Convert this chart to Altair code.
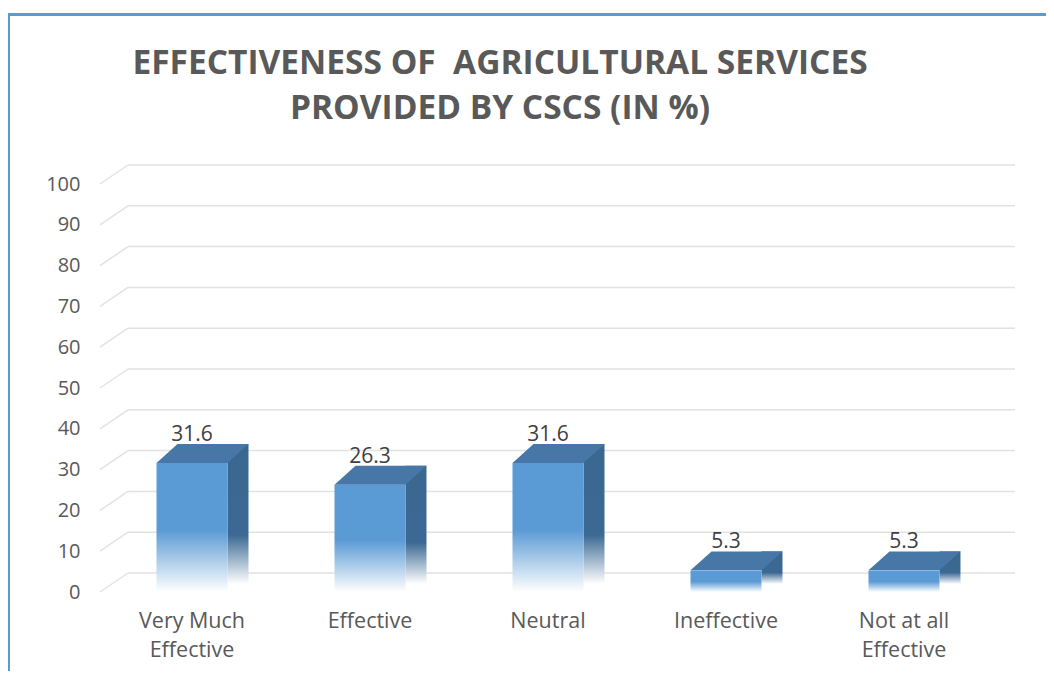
import altair as alt
import pandas as pd

categories = ["Very Much\nEffective", "Effective", "Neutral", "Ineffective", "Not at all\nEffective"]
values = [31.6, 26.3, 31.6, 5.3, 5.3]
tick_values = [0, 10, 20, 30, 40, 50, 60, 70, 80, 90, 100]

title_lines = ["EFFECTIVENESS OF  AGRICULTURAL SERVICES", "PROVIDED BY CSCS (IN %)"]

FONT = "Open Sans"
W, H = 890, 408
DEPTH_X, DEPTH_Y = 21, 19
BAR_W = 71

df = pd.DataFrame({"cat": categories, "value": values})
grid_df = pd.DataFrame({"tick": tick_values})
one = pd.DataFrame({"k": [0]})

yscale = alt.Scale(domain=[0, 100], nice=False, zero=True)
xscale = alt.Scale(paddingInner=0, paddingOuter=0)

yaxis = alt.Axis(values=tick_values, title=None, ticks=False, domain=False, grid=False,
                 labelPadding=23, labelFontSize=20, labelColor="#595959", labelFont=FONT)
xaxis = alt.Axis(title=None, ticks=False, domain=False, grid=False, labelAngle=0,
                 labelExpr="split(datum.label, '\\n')", labelPadding=18,
                 labelFontSize=21.5, labelColor="#595959", labelFont=FONT,
                 labelLineHeight=29, labelBaseline="top")

front_grad = alt.Gradient(
    gradient="linear", x1=0, y1=0, x2=0, y2=1,
    stops=[alt.GradientStop(color="#5B9BD5", offset=0),
           alt.GradientStop(color="#5B9BD5", offset=0.52),
           alt.GradientStop(color="#FFFFFF", offset=1)])
side_grad = alt.Gradient(
    gradient="linear", x1=0, y1=0, x2=0, y2=1,
    stops=[alt.GradientStop(color="#3A6790", offset=0),
           alt.GradientStop(color="#3C6993", offset=0.65),
           alt.GradientStop(color="#FFFFFF", offset=1)])

ytick = alt.Y("tick:Q", scale=yscale, axis=yaxis)
yval = alt.Y("value:Q", scale=yscale, axis=yaxis)
xcat = alt.X("cat:N", sort=categories, scale=xscale, axis=xaxis)

# gridlines (3D wall)
grid_front = alt.Chart(grid_df).mark_rule(color="#E2E2E2", strokeWidth=1.5, y2Offset=-DEPTH_Y).encode(
    x=alt.value(-3), x2=alt.value(25), y=ytick, y2="tick:Q")
grid_back = alt.Chart(grid_df).mark_rule(color="#E2E2E2", strokeWidth=1.5, yOffset=-DEPTH_Y).encode(
    x=alt.value(25), x2=alt.value(912), y=ytick)

side = alt.Chart(df).mark_bar(width=DEPTH_X, xOffset=BAR_W / 2 + DEPTH_X / 2,
                              yOffset=-DEPTH_Y, y2Offset=-8, fill=side_grad).encode(
    x=xcat, y=yval, y2=alt.datum(0))

front = alt.Chart(df).mark_bar(width=BAR_W, fill=front_grad).encode(
    x=xcat, y=yval, y2=alt.datum(0))

half = (BAR_W + DEPTH_X) / 2
hy = DEPTH_Y / 2 / half
fx = (BAR_W - half) / half
top_path = f"M-1,{hy:.4f}L{fx:.4f},{hy:.4f}L1,{-hy:.4f}L{-fx:.4f},{-hy:.4f}Z"
top = alt.Chart(df).mark_point(shape=top_path, size=(2 * half) ** 2, filled=True, opacity=1,
                               fill="#4677A7", strokeWidth=0,
                               xOffset=half - BAR_W / 2, yOffset=-DEPTH_Y / 2).encode(
    x=xcat, y=yval)

labels = alt.Chart(df).mark_text(dy=-28, baseline="middle", fontSize=21, color="#404040", font=FONT).encode(
    x=xcat, y=yval, text=alt.Text("value:Q", format=".1f"))

# keep the double space visible in SVG
shown_title = [t.replace("  ", "\u00a0 ") for t in title_lines]
title = alt.Chart(one).mark_text(align="center", baseline="alphabetic", lineHeight=45, fontSize=33.5,
                                 fontWeight="bold", font=FONT, color="#595959").encode(
    x=alt.value(397), y=alt.value(-110), text=alt.value(shown_title))

border_top = alt.Chart(one).mark_rule(color="#5B9BD5", strokeWidth=3).encode(
    x=alt.value(-95), x2=alt.value(943), y=alt.value(-169.5))
border_left = alt.Chart(one).mark_rule(color="#5B9BD5", strokeWidth=3).encode(
    x=alt.value(-94.5), y=alt.value(-171), y2=alt.value(487))

chart = alt.layer(border_top, border_left, title, grid_front, grid_back, side, front, top, labels).properties(
    width=W, height=H,
    background="white",
    autosize=alt.AutoSizeParams(type="none"),
    padding={"left": 95, "top": 176, "right": 53, "bottom": 79},
).configure_view(strokeWidth=0)

chart.save("out.html", embed_options={"renderer": "svg", "actions": False})
